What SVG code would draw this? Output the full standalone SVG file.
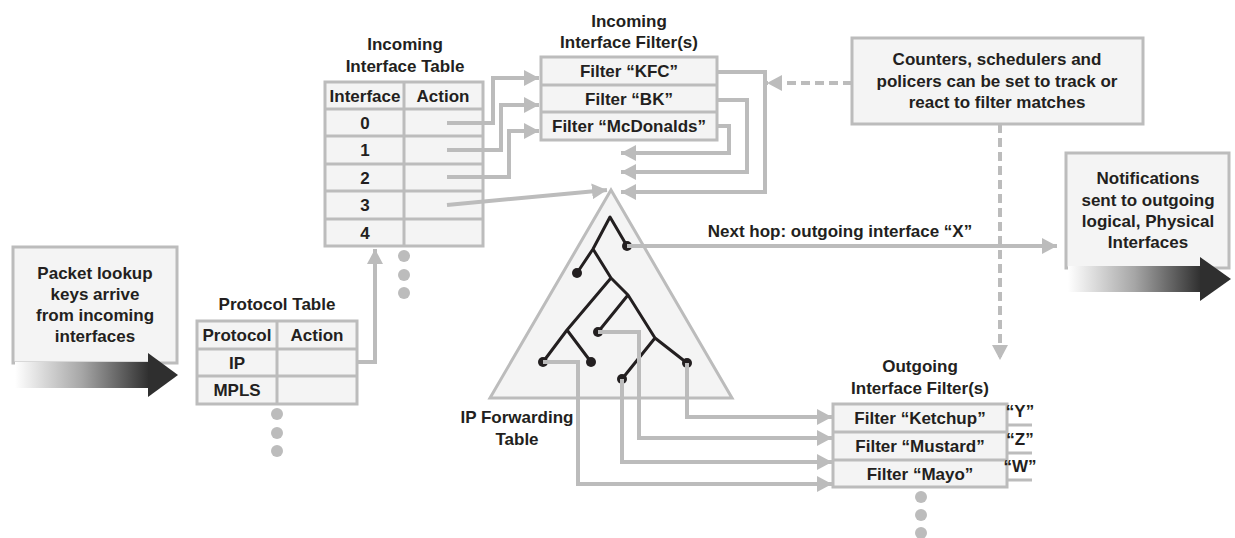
<svg xmlns="http://www.w3.org/2000/svg" width="1235" height="538" viewBox="0 0 1235 538">
<defs>
<style>
text{font-family:"Liberation Sans",Arial,sans-serif;font-weight:bold;font-size:17px;fill:#231f20;text-anchor:middle}
.box{fill:#f4f4f4;stroke:#bcbcbc;stroke-width:3}
.grid{fill:none;stroke:#bcbcbc;stroke-width:3}
.conn{fill:none;stroke:#bcbcbc;stroke-width:4}
.dash{fill:none;stroke:#bcbcbc;stroke-width:4;stroke-dasharray:9 5}
.tree{fill:none;stroke:#231f20;stroke-width:3;stroke-linejoin:round}
.leaf{fill:#231f20}
.dot{fill:#bcbcbc}
</style>
<marker id="ah" markerUnits="userSpaceOnUse" markerWidth="16" markerHeight="18" refX="15" refY="8" orient="auto">
<path d="M0,0 L15,8 L0,16 z" fill="#bcbcbc"/>
</marker>
<linearGradient id="grad" x1="0" y1="0" x2="1" y2="0">
<stop offset="0" stop-color="#ffffff"/>
<stop offset="0.5" stop-color="#a6a6a6"/>
<stop offset="1" stop-color="#2f2f2f"/>
</linearGradient>
</defs>

<g id="packet-lookup">
<rect class="box" x="13" y="247" width="164" height="116"/>
<rect x="15" y="362" width="134" height="26" fill="url(#grad)"/>
<path d="M148,353 L178,375 L148,397 z" fill="#2f2f2f"/>
<text x="95" y="279">Packet lookup</text>
<text x="95" y="300">keys arrive</text>
<text x="95" y="321">from incoming</text>
<text x="95" y="342">interfaces</text>
</g>

<g id="protocol-table">
<text x="277" y="310">Protocol Table</text>
<rect class="box" x="197" y="321" width="160" height="83"/>
<path class="grid" d="M277,321 V404 M197,349 H357 M197,376 H357"/>
<text x="237" y="341">Protocol</text>
<text x="317" y="341">Action</text>
<text x="237" y="369">IP</text>
<text x="237" y="396">MPLS</text>
<circle class="dot" cx="277" cy="414" r="6"/>
<circle class="dot" cx="277" cy="433" r="6"/>
<circle class="dot" cx="277" cy="451" r="6"/>
</g>

<g id="incoming-interface-table">
<text x="405" y="50">Incoming</text>
<text x="405" y="72">Interface Table</text>
<rect class="box" x="325" y="82" width="158" height="164"/>
<path class="grid" d="M404,82 V246 M325,109 H483 M325,136 H483 M325,164 H483 M325,191 H483 M325,219 H483"/>
<text x="365" y="102">Interface</text>
<text x="443" y="102">Action</text>
<text x="365" y="129">0</text>
<text x="365" y="156">1</text>
<text x="365" y="184">2</text>
<text x="365" y="211">3</text>
<text x="365" y="239">4</text>
<circle class="dot" cx="404" cy="256" r="6"/>
<circle class="dot" cx="404" cy="275" r="6"/>
<circle class="dot" cx="404" cy="293" r="6"/>
</g>

<g id="incoming-filters">
<text x="629" y="27">Incoming</text>
<text x="629" y="48">Interface Filter(s)</text>
<rect class="box" x="541" y="57" width="176" height="83"/>
<path class="grid" d="M541,85 H717 M541,112 H717"/>
<text x="629" y="77">Filter “KFC”</text>
<text x="629" y="105">Filter “BK”</text>
<text x="629" y="132">Filter “McDonalds”</text>
</g>

<g id="counters-note">
<rect class="box" x="852" y="38" width="291" height="86"/>
<text x="997" y="65">Counters, schedulers and</text>
<text x="997" y="87">policers can be set to track or</text>
<text x="997" y="108">react to filter matches</text>
</g>

<g id="notifications">
<rect class="box" x="1066" y="153" width="163" height="115"/>
<rect x="1068" y="266" width="133" height="26" fill="url(#grad)"/>
<path d="M1200,257 L1231,279 L1200,301 z" fill="#2f2f2f"/>
<text x="1148" y="184">Notifications</text>
<text x="1148" y="206">sent to outgoing</text>
<text x="1148" y="227">logical, Physical</text>
<text x="1148" y="248">Interfaces</text>
</g>

<g id="ip-forwarding-table">
<polygon points="611,190 490,398 732,398" fill="#f4f4f4" stroke="#bcbcbc" stroke-width="3"/>
<path class="tree" d="M627,246 L610,217 L593,249 L577,273 M593,249 L611,278 L628,295 L655,338 L687,363 M628,295 L598,332 M611,278 L567,330 L543,362 M567,330 L591,362 M655,338 L622,379"/>
<circle class="leaf" cx="627" cy="246" r="5"/>
<circle class="leaf" cx="577" cy="273" r="5"/>
<circle class="leaf" cx="598" cy="332" r="5"/>
<circle class="leaf" cx="543" cy="362" r="5"/>
<circle class="leaf" cx="591" cy="362" r="5"/>
<circle class="leaf" cx="622" cy="379" r="5"/>
<circle class="leaf" cx="687" cy="363" r="5"/>
<text x="517" y="423">IP Forwarding</text>
<text x="517" y="445">Table</text>
</g>

<g id="outgoing-filters">
<text x="920" y="372">Outgoing</text>
<text x="920" y="394">Interface Filter(s)</text>
<rect class="box" x="833" y="404" width="174" height="83"/>
<path class="grid" d="M833,432 H1007 M833,460 H1007"/>
<text x="920" y="424">Filter “Ketchup”</text>
<text x="920" y="452">Filter “Mustard”</text>
<text x="920" y="480">Filter “Mayo”</text>
<circle class="dot" cx="921" cy="497" r="6"/>
<circle class="dot" cx="921" cy="515" r="6"/>
<circle class="dot" cx="921" cy="533" r="6"/>
<text x="1020" y="417">“Y”</text>
<text x="1020" y="445">“Z”</text>
<text x="1020" y="472">“W”</text>
<path class="grid" d="M1007,425 H1032 M1007,453 H1032 M1007,480 H1032"/>
</g>

<g id="connectors">
<path class="conn" d="M357,362 H375 V249" marker-end="url(#ah)"/>
<path class="conn" d="M447,123 H493 V78 H539" marker-end="url(#ah)"/>
<path class="conn" d="M447,150 H501 V105 H539" marker-end="url(#ah)"/>
<path class="conn" d="M447,177 H509 V131 H539" marker-end="url(#ah)"/>
<path class="conn" d="M447,205 L607,190" marker-end="url(#ah)"/>
<path class="conn" d="M717,72 H765 V192 H621" marker-end="url(#ah)"/>
<path class="conn" d="M717,100 H747 V172 H621" marker-end="url(#ah)"/>
<path class="conn" d="M717,126 H729 V153 H621" marker-end="url(#ah)"/>
<path class="dash" d="M852,83 H767" marker-end="url(#ah)"/>
<path class="dash" d="M1000,124 V360" marker-end="url(#ah)"/>
<path class="conn" d="M627,246 H1057" marker-end="url(#ah)"/>
<text x="840" y="237">Next hop: outgoing interface “X”</text>
<path class="conn" d="M687,363 V417 H832" marker-end="url(#ah)"/>
<path class="conn" d="M598,332 H639 V438 H832" marker-end="url(#ah)"/>
<path class="conn" d="M622,379 V462 H832" marker-end="url(#ah)"/>
<path class="conn" d="M543,362 H578 V484 H832" marker-end="url(#ah)"/>
</g>
</svg>
